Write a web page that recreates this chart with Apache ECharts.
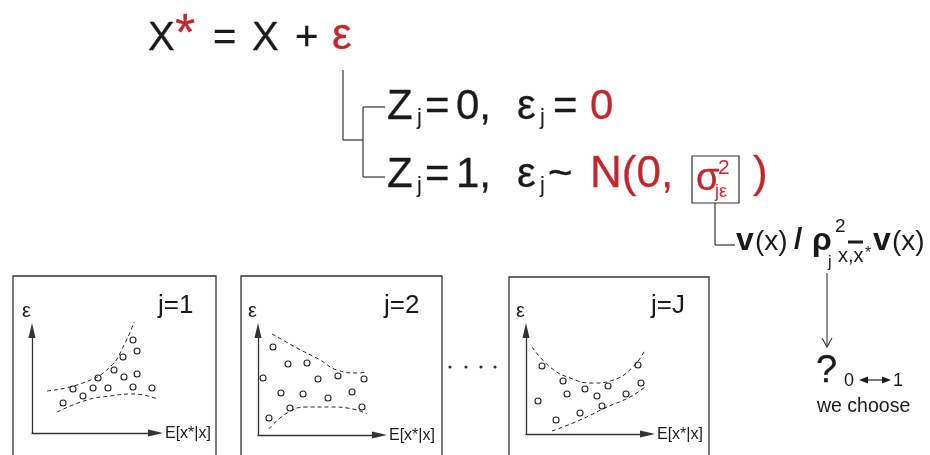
<!DOCTYPE html>
<html><head><meta charset="utf-8">
<script src="https://cdn.jsdelivr.net/npm/echarts@6/dist/echarts.min.js"></script>
<style>html,body{margin:0;padding:0;background:#fff}#c{width:930px;height:455px}</style>
</head><body><div id="c"></div>
<script>
// ---- data (units: 0..10 along each small panel's axis arrows) ----
const panelLabels = ['j=1', 'j=2', 'j=J'];
const axisNameY = 'ε';
const axisNameX = 'E[x*|x]';

const p1Points = [[7.71,8.45],[8.02,7.45],[6.95,6.91],[6.26,5.73],[5.04,5.0],[7.02,5.09],[8.02,5.36],
  [3.13,4.0],[4.66,4.09],[5.80,4.09],[7.71,4.18],[9.16,4.09],[3.89,3.36],[2.37,2.73]];
const p1Upper = [[1.15,3.82],[3.89,4.55],[5.95,6.0],[7.1,8.18],[7.79,10.1]];
const p1Lower = [[1.91,1.91],[4.2,3.0],[5.95,3.36],[7.71,3.55],[9.77,3.0]];

const p2Points = [[1.16,7.86],[2.33,6.34],[3.80,6.43],[0.39,5.09],[4.65,5.0],[6.20,5.27],[8.22,5.0],
  [1.78,3.75],[3.49,3.66],[5.43,3.30],[7.29,3.84],[2.48,2.41],[8.06,2.5],[0.85,1.52]];
const p2Upper = [[1.09,9.02],[3.02,7.77],[4.81,6.70],[6.12,5.80],[7.67,5.54],[8.45,5.63]];
const p2Lower = [[0.85,0.54],[2.25,1.96],[3.80,2.5],[5.58,2.5],[7.36,2.32],[8.45,1.88]];

const p3Points = [[1.24,6.13],[2.87,4.77],[8.68,6.22],[0.93,2.97],[3.18,3.60],[4.57,4.05],[5.50,3.42],
  [6.36,4.32],[7.75,3.60],[8.91,4.59],[5.89,2.52],[4.19,1.89],[2.33,1.26]];
const p3Upper = [[0.47,7.84],[1.86,6.04],[3.41,5.05],[5.19,4.59],[6.74,4.86],[8.29,6.04],[9.22,7.57]];
const p3Lower = [[2.02,0.27],[4.19,1.26],[6.28,2.43],[8.06,3.33],[9.22,4.23]];

const panelPoints = [p1Points, p2Points, p3Points];
const panelUpper = [p1Upper, p2Upper, p3Upper];
const panelLower = [p1Lower, p2Lower, p3Lower];

// ---- layout ----
const FONT = "'Liberation Sans', Arial, Helvetica, sans-serif";
const RED = '#c1272d';
const INK = '#1a1a1a';
const LINE = '#333';
const ARW = 15; // arrow length
const panels = [
  {box:[13,276,203], ox:32, oy:433, tx:163, ty:323},
  {box:[241,276,201], ox:258, oy:435, tx:387, ty:323},
  {box:[509,277,200], ox:526, oy:434, tx:655, ty:323}
];

const grids = [], xAxes = [], yAxes = [], series = [];
panels.forEach((p, i) => {
  const w = p.tx - ARW/2 - p.ox, h = p.oy - (p.ty + ARW/2);
  grids.push({left: p.ox, top: p.ty + ARW/2, width: w, height: h, containLabel: false});
  const axCommon = {
    type: 'value', min: 0, gridIndex: i,
    axisLine: {show: true, onZero: false, symbol: ['none','triangle'], symbolSize: [7, ARW],
      lineStyle: {color: LINE, width: 1.3}},
    axisTick: {show: false}, axisLabel: {show: false}, splitLine: {show: false}
  };
  xAxes.push(Object.assign({}, axCommon, {max: 10 * w / (p.tx - p.ox)}));
  yAxes.push(Object.assign({}, axCommon, {max: 10 * h / (p.oy - p.ty)}));
  [panelUpper[i], panelLower[i]].forEach(c => series.push({
    type: 'line', xAxisIndex: i, yAxisIndex: i, data: c, smooth: 0.5, showSymbol: false,
    clip: false, silent: true, animation: false,
    lineStyle: {color: '#222', width: 1, type: [4, 3]}
  }));
  series.push({
    type: 'scatter', xAxisIndex: i, yAxisIndex: i, data: panelPoints[i], symbol: 'circle',
    symbolSize: 6, silent: true, animation: false, clip: false,
    itemStyle: {color: '#fff', borderColor: '#222', borderWidth: 1.1, opacity: 1}
  });
});

function T(text, x, y, size, o) {
  o = o || {};
  const fill = o.fill || INK;
  const st = {
    text: text, fill: fill, textAlign: o.align || 'left', textVerticalAlign: 'middle',
    font: (o.weight || 'normal') + ' ' + size + 'px ' + FONT };
  if (size >= 30 && o.weight !== 'bold') { st.stroke = fill; st.lineWidth = 0.3; }
  return {type: 'text', x: x, y: y, z: 10, silent: true, style: st};
}
function L(x1, y1, x2, y2, w, c) {
  return {type: 'line', silent: true, shape: {x1, y1, x2, y2}, style: {stroke: c || LINE, lineWidth: w || 1.2}};
}

const g = [];
// panels: boxes & labels
panels.forEach((p, i) => {
  g.push({type: 'rect', silent: true, shape: {x: p.box[0], y: p.box[1], width: p.box[2], height: 220},
    style: {fill: 'none', stroke: LINE, lineWidth: 1.3}});
  g.push(T(axisNameY, p.ox - 10, p.ty - 12, 20));
  g.push(T(panelLabels[i], p.box[0] + p.box[2] - 58, 306, 26));
  g.push(T(axisNameX, p.tx + 2, p.oy + 1, 16));
});
// ellipsis dots
[450, 466, 481, 495].forEach(x => g.push({type: 'circle', silent: true, shape: {cx: x, cy: 367, r: 1.6}, style: {fill: '#333'}}));

// top equation
g.push(T('X', 148, 39, 40));
g.push(T('*', 175, 36, 52, {fill: RED}));
g.push(T('=', 213, 39, 40));
g.push(T('X', 252, 39, 40));
g.push(T('+', 295, 39, 40));
g.push(T('ε', 332, 37, 44, {fill: RED}));

// tree lines
g.push(L(343, 70, 343, 140));
g.push(L(343, 140, 363, 140));
g.push(L(363, 107, 363, 177));
g.push(L(363, 107, 385, 107));
g.push(L(363, 177, 385, 177));

// line Z=0
g.push(T('Z', 387, 107, 42));
g.push(T('j', 417, 118, 22));
g.push(T('=', 425, 107, 42));
g.push(T('0,', 456, 107, 42));
g.push(T('ε', 517, 107, 42));
g.push(T('j', 540, 118, 22));
g.push(T('=', 553, 107, 42));
g.push(T('0', 590, 107, 42, {fill: RED}));

// line Z=1
g.push(T('Z', 387, 175, 42));
g.push(T('j', 417, 186, 22));
g.push(T('=', 425, 175, 42));
g.push(T('1,', 456, 175, 42));
g.push(T('ε', 517, 175, 42));
g.push(T('j', 540, 186, 22));
g.push(T('~', 548, 175, 42));
g.push(T('N(0,', 590, 175, 44, {fill: RED}));
g.push({type: 'rect', silent: true, shape: {x: 692, y: 156, width: 47, height: 47}, style: {fill: 'none', stroke: LINE, lineWidth: 1.2}});
g.push(T('σ', 696, 180, 38, {fill: RED}));
g.push(T('2', 718, 168, 21, {fill: RED}));
g.push(T('jε', 715, 192, 18, {fill: RED}));
g.push(T(')', 753, 175, 44, {fill: RED}));

// sigma box connector
g.push(L(715, 203, 715, 245));
g.push(L(715, 245, 735, 245));

// v(x) / rho expression
g.push(T('v', 736, 241, 32, {weight: 'bold'}));
g.push(T('(x)', 755, 242, 28));
g.push(T('/', 794, 241, 30, {weight: 'bold'}));
g.push(T('ρ', 812, 241, 32, {weight: 'bold'}));
g.push(T('2', 835, 227, 19));
g.push({type: 'rect', silent: true, shape: {x: 848, y: 240.5, width: 15, height: 3}, style: {fill: INK}});
g.push(T('j', 828, 263, 16));
g.push(T('x,x', 838, 256, 20));
g.push(T('*', 865, 254, 16));
g.push(T('v', 873, 241, 32, {weight: 'bold'}));
g.push(T('(x)', 892, 242, 28));

// down arrow
g.push(L(827, 273, 827, 346, 1.1));
g.push({type: 'polyline', silent: true, shape: {points: [[822, 338], [827, 347], [832, 338]]}, style: {fill: 'none', stroke: LINE, lineWidth: 1.1}});

// ? 0 <-> 1 / we choose
g.push(T('?', 816, 372, 38));
g.push(T('0', 844, 381, 18));
g.push(L(864, 380, 886, 380, 1.3));
g.push({type: 'polygon', silent: true, shape: {points: [[859, 380], [868, 376.5], [868, 383.5]]}, style: {fill: INK}});
g.push({type: 'polygon', silent: true, shape: {points: [[891, 380], [882, 376.5], [882, 383.5]]}, style: {fill: INK}});
g.push(T('1', 893, 381, 18));
g.push(T('we choose', 817, 407, 19.5));

const chart = echarts.init(document.getElementById('c'), null, {renderer: 'canvas'});
chart.setOption({
  backgroundColor: '#fff',
  animation: false,
  grid: grids, xAxis: xAxes, yAxis: yAxes, series: series,
  graphic: {elements: g}
});
</script>
</body></html>
